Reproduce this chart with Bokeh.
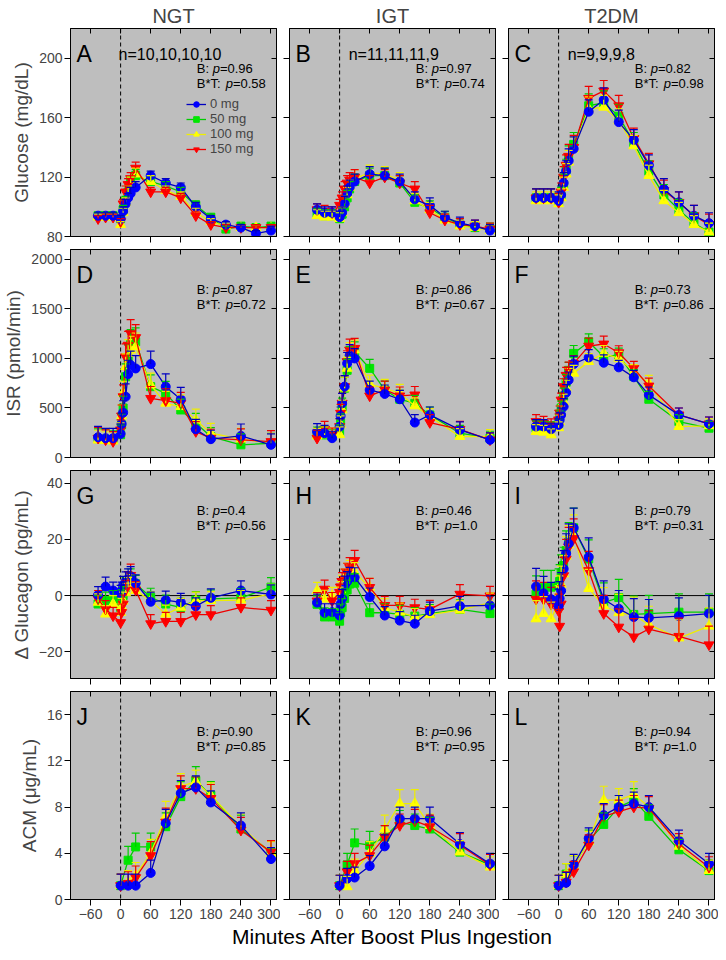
from bokeh.plotting import figure
from bokeh.models import (ColumnDataSource, Range1d, FixedTicker, LinearAxis, Span,
                          Whisker, TeeHead, Legend, LegendItem)
from bokeh.layouts import column, row
from bokeh.embed import file_html
from bokeh.resources import INLINE
from bokeh.core.properties import value, field

FONT = "Liberation Sans"

doses = ["0 mg", "50 mg", "100 mg", "150 mg"]
groups = ["NGT", "IGT", "T2DM"]
x_ticks = [-60, 0, 60, 120, 180, 240, 300]

# ---------------- time points (min) ----------------
t_glu = [-45, -30, -15, 0, 5, 10, 15, 20, 30, 60, 90, 120, 150, 180, 210, 240, 270, 300]
t_isr = [-45, -30, -15, 0, 2, 5, 10, 15, 20, 30, 60, 90, 120, 150, 180, 240, 300]
t_gcg = [-45, -30, -15, 0, 2, 5, 10, 15, 20, 30, 60, 90, 120, 150, 180, 240, 300]
t_acm = [0, 15, 30, 60, 90, 120, 150, 180, 240, 300]

# ---------------- Glucose (mg/dL) ----------------
glu_ngt_0 = [94, 94, 94, 92, 97, 102, 106, 109, 113, 121, 116, 113, 100, 92, 88, 86, 82, 84]
glu_ngt_50 = [94, 94, 94, 92, 98, 104, 110, 116, 121, 117, 114, 110, 101, 93, 85, 87, 86, 87]
glu_ngt_100 = [93, 93, 93, 88, 96, 103, 110, 116, 122, 117, 111, 107, 96, 90, 87, 86, 86, 86]
glu_ngt_150 = [92, 93, 93, 90, 102, 110, 115, 119, 126, 110, 110, 106, 94, 88, 86, 86, 86, 86]
glu_ngt_0_se = [2, 2, 2, 2, 3, 3, 3, 4, 4, 3, 3, 3, 3, 2, 2, 2, 2, 3]
glu_ngt_50_se = [2, 2, 2, 2, 3, 3, 4, 4, 4, 4, 3, 3, 3, 2, 2, 2, 2, 2]
glu_ngt_100_se = [2, 2, 2, 2, 3, 3, 4, 4, 4, 4, 3, 3, 3, 2, 2, 2, 2, 2]
glu_ngt_150_se = [2, 2, 2, 2, 3, 4, 4, 4, 4, 3, 3, 3, 3, 2, 2, 2, 2, 2]

glu_igt_0 = [98, 96, 96, 93, 96, 102, 109, 113, 117, 122, 121, 117, 105, 101, 93, 89, 87, 84]
glu_igt_50 = [95, 94, 94, 92, 95, 100, 106, 112, 117, 121, 121, 116, 103, 99, 93, 88, 86, 85]
glu_igt_100 = [94, 93, 93, 92, 96, 102, 108, 113, 119, 123, 122, 118, 104, 98, 91, 87, 86, 84]
glu_igt_150 = [98, 97, 96, 101, 106, 112, 116, 118, 120, 116, 120, 116, 112, 96, 91, 88, 87, 85]
glu_igt_0_se = [4, 4, 4, 4, 4, 5, 5, 5, 5, 5, 5, 5, 5, 5, 4, 4, 4, 4]
glu_igt_50_se = [4, 4, 4, 4, 4, 5, 5, 5, 5, 5, 5, 5, 5, 5, 4, 4, 4, 4]
glu_igt_100_se = [4, 4, 4, 4, 4, 5, 5, 5, 6, 5, 5, 5, 5, 5, 4, 4, 4, 4]
glu_igt_150_se = [4, 4, 4, 4, 4, 5, 5, 5, 5, 5, 5, 5, 5, 5, 4, 4, 4, 4]

glu_t2d_0 = [106, 106, 106, 104, 108, 116, 124, 131, 139, 164, 172, 157, 145, 128, 112, 103, 94, 89]
glu_t2d_50 = [106, 106, 106, 103, 107, 115, 125, 133, 142, 168, 170, 161, 143, 124, 108, 98, 89, 83]
glu_t2d_100 = [104, 104, 104, 102, 106, 113, 122, 130, 139, 166, 167, 158, 141, 121, 104, 96, 88, 83]
glu_t2d_150 = [106, 106, 106, 103, 110, 120, 128, 134, 140, 173, 178, 168, 146, 129, 111, 103, 94, 88]
glu_t2d_0_se = [6, 6, 6, 6, 6, 7, 7, 8, 8, 8, 8, 8, 7, 7, 7, 7, 7, 7]
glu_t2d_50_se = [6, 6, 6, 6, 6, 7, 7, 8, 8, 8, 8, 8, 7, 7, 7, 7, 7, 6]
glu_t2d_100_se = [6, 6, 6, 6, 6, 7, 7, 8, 8, 8, 8, 8, 7, 7, 7, 7, 6, 6]
glu_t2d_150_se = [6, 6, 6, 6, 6, 7, 7, 8, 8, 8, 7, 7, 7, 7, 7, 7, 7, 7]

# ---------------- ISR (pmol/min) ----------------
isr_ngt_0 = [205, 195, 195, 238, 339, 453, 614, 842, 933, 899, 943, 715, 587, 285, 185, 218, 128]
isr_ngt_50 = [190, 185, 180, 230, 330, 500, 815, 1000, 1151, 1168, 715, 648, 480, 346, 211, 128, 144]
isr_ngt_100 = [175, 170, 165, 250, 420, 650, 916, 1050, 1084, 1117, 732, 547, 513, 379, 245, 185, 144]
isr_ngt_150 = [195, 178, 161, 279, 420, 614, 1017, 1134, 1252, 1211, 597, 574, 547, 262, 195, 178, 161]
isr_ngt_0_se = [110, 100, 100, 100, 110, 120, 130, 140, 140, 130, 130, 130, 120, 100, 90, 120, 110]
isr_ngt_50_se = [100, 100, 90, 100, 110, 120, 130, 140, 140, 140, 120, 120, 110, 100, 90, 110, 100]
isr_ngt_100_se = [100, 90, 90, 100, 110, 120, 130, 140, 140, 140, 120, 120, 120, 110, 100, 110, 100]
isr_ngt_150_se = [110, 100, 100, 100, 110, 120, 130, 140, 140, 130, 120, 120, 110, 100, 90, 110, 110]

isr_igt_0 = [262, 245, 195, 312, 420, 548, 716, 950, 1030, 1000, 682, 642, 588, 353, 430, 279, 178]
isr_igt_50 = [228, 228, 215, 250, 350, 500, 700, 880, 1010, 1068, 900, 682, 588, 548, 430, 245, 195]
isr_igt_100 = [215, 228, 228, 230, 330, 480, 700, 900, 1050, 1085, 742, 699, 648, 521, 413, 212, 212]
isr_igt_150 = [195, 285, 228, 312, 447, 548, 716, 968, 1085, 1102, 622, 682, 622, 632, 353, 285, 178]
isr_igt_0_se = [80, 80, 70, 80, 90, 100, 110, 110, 110, 100, 90, 90, 90, 80, 80, 80, 70]
isr_igt_50_se = [80, 80, 70, 80, 90, 100, 110, 110, 110, 100, 90, 90, 90, 80, 80, 80, 70]
isr_igt_100_se = [80, 80, 70, 80, 90, 100, 110, 110, 110, 100, 90, 90, 90, 80, 80, 80, 70]
isr_igt_150_se = [80, 80, 70, 80, 90, 100, 110, 110, 110, 100, 90, 90, 90, 85, 80, 80, 70]

isr_t2d_0 = [313, 313, 286, 329, 380, 430, 514, 655, 783, 944, 1010, 957, 910, 810, 632, 430, 339]
isr_t2d_50 = [300, 296, 300, 330, 400, 500, 620, 760, 880, 1051, 1169, 1018, 1035, 817, 588, 363, 296]
isr_t2d_100 = [262, 255, 228, 300, 360, 450, 560, 700, 820, 850, 968, 1051, 1001, 867, 749, 312, 320]
isr_t2d_150 = [363, 345, 330, 380, 450, 580, 715, 830, 883, 950, 1125, 1146, 1058, 900, 722, 430, 339]
isr_t2d_0_se = [70, 70, 60, 60, 70, 70, 80, 80, 80, 80, 80, 80, 70, 70, 80, 70, 70]
isr_t2d_50_se = [70, 70, 60, 60, 70, 70, 80, 80, 80, 80, 80, 80, 70, 70, 80, 70, 70]
isr_t2d_100_se = [70, 70, 60, 60, 70, 70, 80, 80, 80, 80, 80, 80, 70, 70, 80, 70, 70]
isr_t2d_150_se = [70, 70, 60, 60, 70, 70, 80, 80, 80, 80, 80, 80, 70, 70, 80, 70, 70]

# ---------------- delta Glucagon (pg/mL) ----------------
gcg_ngt_0 = [0.2, 3.2, 1.8, 0.6, 1.8, 3.6, 5.0, 6.0, 6.8, 4.4, -2.2, -1.6, -2.4, -3.8, -0.8, 1.8, 0.4]
gcg_ngt_50 = [-3.0, -1.8, -1.2, -4.2, -1.0, 0.0, 3.0, 5.0, 6.0, 4.2, -0.6, -3.0, -4.2, -1.6, -1.2, -0.8, 3.0]
gcg_ngt_100 = [-2.4, -6.6, -3.0, -6.0, -4.0, -2.0, 1.0, 3.0, 4.0, 1.8, -1.8, -6.6, -4.2, -1.8, -1.8, -1.6, 0.6]
gcg_ngt_150 = [-1.2, -4.8, -7.2, -9.6, -6.0, -3.0, 2.0, 5.0, 7.2, 2.0, -10.0, -9.2, -9.2, -6.8, -6.8, -4.2, -5.2]
gcg_ngt_0_se = [3.0, 3.4, 3.0, 3.0, 3.0, 3.2, 3.4, 3.5, 3.5, 3.0, 3.4, 3.2, 3.2, 3.0, 3.2, 3.4, 3.4]
gcg_ngt_50_se = [3.0, 3.0, 3.0, 3.0, 3.0, 3.2, 3.4, 3.5, 3.5, 3.0, 3.2, 3.2, 3.2, 3.0, 3.2, 3.4, 3.4]
gcg_ngt_100_se = [3.0, 3.0, 3.0, 3.0, 3.0, 3.2, 3.4, 3.5, 3.5, 3.0, 3.2, 3.2, 3.2, 3.0, 3.2, 3.4, 3.4]
gcg_ngt_150_se = [3.0, 3.0, 3.0, 3.0, 3.0, 3.2, 3.4, 3.5, 4.0, 3.0, 3.2, 3.2, 3.2, 3.0, 3.2, 3.4, 3.4]

gcg_igt_0 = [-2.5, -6.1, -5.9, -7.1, -3.0, -1.0, 3.5, 5.0, 6.5, 6.5, -0.5, -7.1, -8.9, -10.0, -5.5, -3.7, -3.5]
gcg_igt_50 = [-3.1, -7.6, -7.6, -9.1, -6.0, -4.3, -1.0, 2.0, 4.1, 4.4, -6.1, -6.1, -6.7, -7.3, -6.4, -4.9, -6.4]
gcg_igt_100 = [1.7, -1.3, -0.1, 0.0, 2.0, 4.0, 6.0, 8.0, 9.0, 8.3, 2.9, -4.3, -5.9, -7.6, -6.8, -5.2, -2.5]
gcg_igt_150 = [-1.9, 2.3, -1.9, 1.1, 3.0, 5.0, 6.0, 8.0, 10.0, 12.5, 2.9, -3.5, -3.5, -4.3, -4.9, 0.5, -0.1]
gcg_igt_0_se = [3.0, 3.2, 3.0, 3.0, 3.0, 3.2, 3.4, 3.5, 3.5, 3.4, 3.2, 3.2, 3.2, 3.0, 3.2, 3.4, 3.4]
gcg_igt_50_se = [3.0, 3.2, 3.0, 3.0, 3.0, 3.2, 3.4, 3.5, 3.5, 3.4, 3.2, 3.2, 3.2, 3.0, 3.2, 3.4, 3.4]
gcg_igt_100_se = [3.0, 3.2, 3.0, 3.0, 3.0, 3.2, 3.4, 3.5, 3.5, 3.4, 3.2, 3.2, 3.2, 3.0, 3.2, 3.4, 3.4]
gcg_igt_150_se = [3.0, 3.2, 3.0, 3.0, 3.0, 3.2, 3.4, 3.5, 3.5, 3.6, 3.2, 3.2, 3.2, 3.0, 3.2, 3.4, 3.4]

gcg_t2d_0 = [3.2, 0.8, -1.3, -3.7, -1.0, 1.7, 9.5, 15.0, 18.5, 24.1, 13.7, -1.3, -4.7, -7.6, -7.9, -7.3, -6.4]
gcg_t2d_50 = [0.5, 3.0, 3.0, 3.5, 5.0, 8.0, 10.7, 16.0, 19.0, 24.1, 13.0, -2.5, -0.7, -6.7, -6.4, -5.9, -5.9]
gcg_t2d_100 = [-8.3, -6.4, -8.3, -2.5, 1.0, 4.0, 7.7, 14.0, 18.0, 21.7, 2.5, -3.7, -6.1, -7.0, -10.3, -15.1, -10.9]
gcg_t2d_150 = [-1.3, -1.3, -3.1, -5.5, -10.9, -3.0, 7.1, 13.0, 17.3, 20.3, 8.9, -6.4, -11.2, -14.7, -11.9, -14.5, -17.5]
gcg_t2d_0_se = [6.5, 6.0, 6.0, 6.0, 6.0, 6.5, 6.5, 7.0, 7.0, 7.0, 6.8, 6.5, 6.5, 6.5, 6.5, 6.5, 6.5]
gcg_t2d_50_se = [6.5, 6.0, 6.0, 6.0, 6.0, 6.5, 6.5, 7.0, 7.0, 7.0, 6.8, 7.0, 6.5, 6.5, 6.5, 6.5, 6.5]
gcg_t2d_100_se = [6.5, 6.0, 6.0, 6.0, 6.0, 6.5, 6.5, 7.0, 7.0, 7.0, 6.8, 6.5, 6.5, 6.5, 6.5, 6.5, 6.5]
gcg_t2d_150_se = [6.5, 6.0, 6.0, 6.0, 6.0, 6.5, 6.5, 7.0, 7.0, 7.0, 6.8, 6.5, 6.5, 6.5, 6.5, 6.5, 6.6]

# ---------------- ACM (ug/mL) ----------------
acm_ngt_0 = [1.2, 1.2, 1.2, 2.3, 6.6, 9.2, 9.7, 8.4, 6.4, 3.5]
acm_ngt_50 = [1.2, 3.4, 4.55, 4.55, 6.3, 8.9, 10.3, 9.0, 6.1, 4.1]
acm_ngt_100 = [1.2, 1.5, 2.1, 4.0, 7.2, 9.8, 10.2, 9.0, 6.3, 4.0]
acm_ngt_150 = [1.2, 1.4, 1.9, 3.8, 6.7, 9.6, 9.6, 8.75, 6.0, 4.1]
acm_ngt_0_se = [1.0, 1.0, 1.0, 1.1, 1.2, 1.1, 1.0, 1.0, 1.1, 1.0]
acm_ngt_50_se = [1.0, 1.2, 1.2, 1.2, 1.2, 1.3, 1.2, 1.2, 1.2, 1.0]
acm_ngt_100_se = [1.0, 1.0, 1.1, 1.2, 1.3, 1.1, 1.0, 1.1, 1.1, 1.0]
acm_ngt_150_se = [1.0, 1.0, 1.0, 1.2, 1.2, 1.1, 1.0, 1.2, 1.1, 1.0]

acm_igt_0 = [1.2, 1.8, 1.9, 2.9, 4.6, 7.0, 7.0, 7.0, 4.8, 3.1]
acm_igt_50 = [1.2, 3.0, 4.9, 4.7, 5.4, 6.7, 6.4, 6.1, 4.1, 3.0]
acm_igt_100 = [1.2, 1.1, 2.5, 4.0, 6.1, 8.3, 8.3, 6.4, 4.1, 2.8]
acm_igt_150 = [1.2, 2.4, 3.1, 3.8, 5.4, 6.4, 6.8, 6.3, 4.7, 3.0]
acm_igt_0_se = [0.9, 0.9, 0.9, 0.9, 1.0, 1.0, 1.0, 1.0, 1.0, 0.9]
acm_igt_50_se = [0.9, 1.0, 1.2, 1.2, 1.0, 1.0, 1.0, 1.0, 1.0, 0.9]
acm_igt_100_se = [0.9, 0.9, 1.0, 1.0, 1.2, 1.2, 1.2, 1.0, 1.0, 0.9]
acm_igt_150_se = [0.9, 0.9, 0.9, 0.9, 1.0, 1.0, 1.0, 1.0, 1.0, 0.9]

acm_t2d_0 = [1.2, 1.45, 3.0, 5.3, 7.3, 8.0, 8.3, 8.0, 5.1, 3.1]
acm_t2d_50 = [1.2, 2.2, 2.9, 5.1, 6.5, 8.0, 8.6, 7.2, 4.3, 2.5]
acm_t2d_100 = [1.2, 2.2, 2.9, 5.0, 8.6, 8.6, 9.1, 8.0, 4.6, 2.5]
acm_t2d_150 = [1.2, 1.5, 2.4, 4.7, 7.2, 7.6, 8.0, 7.9, 4.8, 2.8]
acm_t2d_0_se = [0.9, 0.9, 0.9, 0.9, 1.0, 1.0, 1.0, 1.0, 0.9, 0.9]
acm_t2d_50_se = [0.9, 0.9, 0.9, 0.9, 1.0, 1.0, 1.0, 1.0, 0.9, 0.9]
acm_t2d_100_se = [0.9, 0.9, 0.9, 0.9, 1.2, 1.0, 1.1, 1.0, 0.9, 0.9]
acm_t2d_150_se = [0.9, 0.9, 0.9, 0.9, 1.0, 1.0, 1.0, 1.0, 0.9, 0.9]

# ---------------- annotations ----------------
panel_letters = ["A", "B", "C", "D", "E", "F", "G", "H", "I", "J", "K", "L"]
n_labels = ["n=10,10,10,10", "n=11,11,11,9", "n=9,9,9,8"]
p_B = ["0.96", "0.97", "0.82", "0.87", "0.86", "0.73", "0.4", "0.46", "0.79", "0.90", "0.96", "0.94"]
p_BT = ["0.58", "0.74", "0.98", "0.72", "0.67", "0.86", "0.56", "1.0", "0.31", "0.85", "0.95", "1.0"]
y_labels = ["Glucose (mg/dL)", "ISR (pmol/min)", "\u0394 Glucagon (pg/mL)", "ACM (\u03bcg/mL)"]
x_label = "Minutes After Boost Plus Ingestion"

y_ranges = [(80, 220), (0, 2100), (-29.5, 44.5), (0, 18)]
y_ticks = [[80, 120, 160, 200], [0, 500, 1000, 1500, 2000], [-20, 0, 20, 40], [0, 4, 8, 12, 16]]

# ---------------- styling ----------------
MARKERS = ["circle", "square", "triangle", "inverted_triangle"]
FILL = ["#0000ff", "#00e600", "#ffff00", "#ff0000"]
LINEC = ["#0000c0", "#00cc00", "#eeee00", "#ee0000"]
SIZES = [9, 8, 10, 10]
DRAW_ORDER = [1, 2, 3, 0]
FW, FH = 206, 208
XR = (-100, 311)
LB0, LB, RB = 70, 9, 4

CW = {'B': .667, ':': .278, ' ': .278, '*': .389, 'T': .611, 'p': .556, '=': .584, '.': .278}


def tw(s, size):
    return sum(CW.get(c, .556) for c in s) * size


def ypos(yr, px_from_top):
    lo, hi = yr
    return hi - px_from_top / FH * (hi - lo)


def tick_only_axis(ticks):
    return LinearAxis(ticker=FixedTicker(ticks=ticks), major_tick_in=5, major_tick_out=0,
                      minor_tick_line_color=None, major_label_text_font_size="0px",
                      major_label_text_color=None, major_label_standoff=0,
                      axis_line_color="black")


def make_panel(col, rowi, t, means, ses):
    idx = rowi * 3 + col
    yr = y_ranges[rowi]
    bottom_row = rowi == 3
    kw = dict(frame_width=FW, frame_height=FH, x_range=Range1d(*XR), y_range=Range1d(*yr),
              output_backend="svg", toolbar_location=None,
              min_border_left=LB0 if col == 0 else LB, min_border_right=RB,
              min_border_top=5, min_border_bottom=8,
              background_fill_color="#bebebe", outline_line_color="black")
    kw["title"] = groups[col] if rowi == 0 else None
    p = figure(**kw)
    if rowi == 0:
        p.title.align = "center"
        p.title.text_font = FONT
        p.title.text_font_size = "20px"
        p.title.text_font_style = "normal"
        p.title.standoff = 4
    p.xgrid.visible = False
    p.ygrid.visible = False

    xa = p.xaxis[0]
    xa.ticker = FixedTicker(ticks=x_ticks)
    xa.major_tick_out = 6
    xa.major_tick_in = 0
    xa.minor_tick_line_color = None
    xa.axis_line_color = "black"
    xa.major_tick_line_color = "black"
    if bottom_row:
        xa.major_label_text_font = FONT
        xa.major_label_text_font_size = "14px"
        xa.major_label_standoff = 3
    else:
        xa.major_label_text_font_size = "0px"
        xa.major_label_text_color = None
        xa.major_label_standoff = 0

    ya = p.yaxis[0]
    ya.ticker = FixedTicker(ticks=y_ticks[rowi])
    ya.major_tick_out = 6
    ya.major_tick_in = 0
    ya.minor_tick_line_color = None
    ya.axis_line_color = "black"
    ya.major_tick_line_color = "black"
    if col == 0:
        ya.major_label_text_font = FONT
        ya.major_label_text_font_size = "14px"
        ya.major_label_standoff = 2
        ya.axis_label = y_labels[rowi]
        ya.axis_label_text_font = FONT
        ya.axis_label_text_font_size = "19px"
        ya.axis_label_text_font_style = "normal"
        ya.axis_label_standoff = 4
    else:
        ya.major_label_text_font_size = "0px"
        ya.major_label_text_color = None
        ya.major_label_standoff = 0

    p.add_layout(tick_only_axis(y_ticks[rowi]), "right")
    p.add_layout(tick_only_axis(x_ticks), "above")

    p.add_layout(Span(location=0, dimension="height", line_color="black", line_width=1,
                      line_dash="4 3", level="underlay"))
    if rowi == 2:
        p.add_layout(Span(location=0, dimension="width", line_color="black", line_width=1,
                          level="underlay"))

    lines, scats = {}, {}
    for i in DRAW_ORDER:
        up = [m + s for m, s in zip(means[i], ses[i])]
        src = ColumnDataSource(dict(t=t, m=means[i], up=up))
        w = Whisker(source=src, base="t", lower="m", upper="up", dimension="height",
                    line_color=LINEC[i], line_width=1.2,
                    upper_head=TeeHead(size=8, line_color=LINEC[i], line_width=1.2),
                    lower_head=None, level="glyph")
        p.add_layout(w)
        lines[i] = p.line("t", "m", source=src, line_color=LINEC[i], line_width=1.3)
        scats[i] = p.scatter("t", "m", source=src, marker=MARKERS[i], size=SIZES[i],
                             fill_color=FILL[i], line_color=FILL[i])

    # panel letter
    p.text(x=[-88], y=[ypos(yr, 25)], text=[panel_letters[idx]], text_font=value(FONT),
           text_font_size="23px", text_baseline="alphabetic", text_align="left",
           text_color="black")
    # n labels
    if rowi == 0:
        p.text(x=[-4 if col == 0 else 18], y=[ypos(yr, 26)], text=[n_labels[col]],
               text_font=value(FONT), text_font_size="16px", text_baseline="alphabetic",
               text_align="left", text_color="black")
    # p values with italic p
    fs = 13
    xs, ys, txt, sty, offs = [], [], [], [], []
    for pre, val, base in (("B: ", p_B[idx], 40), ("B*T: ", p_BT[idx], 55)):
        parts = [(pre, "normal"), ("p", "italic"), ("=" + val, "normal")]
        off = 0.0
        for s, st in parts:
            xs.append(152)
            ys.append(ypos(yr, base))
            txt.append(s)
            sty.append(st)
            offs.append(off)
            off += tw(s, fs)
    tsrc = ColumnDataSource(dict(x=xs, y=ys, text=txt, fs=sty, xo=offs))
    p.text(x="x", y="y", text="text", source=tsrc, x_offset="xo", text_font_style=field("fs"),
           text_font=value(FONT), text_font_size=f"{fs}px", text_baseline="alphabetic",
           text_align="left", text_color="black")

    if idx == 0:
        items = [LegendItem(label=doses[i], renderers=[lines[i], scats[i]]) for i in range(4)]
        leg = Legend(items=items, location=(116, 80), background_fill_alpha=0,
                     border_line_alpha=0, label_text_font=FONT, label_text_font_size="13px",
                     glyph_width=20, glyph_height=14, label_height=14, spacing=0,
                     padding=0, margin=0, label_standoff=4)
        p.add_layout(leg)
    return p


panels_data = [
    (t_glu, [[glu_ngt_0, glu_ngt_50, glu_ngt_100, glu_ngt_150],
             [glu_igt_0, glu_igt_50, glu_igt_100, glu_igt_150],
             [glu_t2d_0, glu_t2d_50, glu_t2d_100, glu_t2d_150]],
     [[glu_ngt_0_se, glu_ngt_50_se, glu_ngt_100_se, glu_ngt_150_se],
      [glu_igt_0_se, glu_igt_50_se, glu_igt_100_se, glu_igt_150_se],
      [glu_t2d_0_se, glu_t2d_50_se, glu_t2d_100_se, glu_t2d_150_se]]),
    (t_isr, [[isr_ngt_0, isr_ngt_50, isr_ngt_100, isr_ngt_150],
             [isr_igt_0, isr_igt_50, isr_igt_100, isr_igt_150],
             [isr_t2d_0, isr_t2d_50, isr_t2d_100, isr_t2d_150]],
     [[isr_ngt_0_se, isr_ngt_50_se, isr_ngt_100_se, isr_ngt_150_se],
      [isr_igt_0_se, isr_igt_50_se, isr_igt_100_se, isr_igt_150_se],
      [isr_t2d_0_se, isr_t2d_50_se, isr_t2d_100_se, isr_t2d_150_se]]),
    (t_gcg, [[gcg_ngt_0, gcg_ngt_50, gcg_ngt_100, gcg_ngt_150],
             [gcg_igt_0, gcg_igt_50, gcg_igt_100, gcg_igt_150],
             [gcg_t2d_0, gcg_t2d_50, gcg_t2d_100, gcg_t2d_150]],
     [[gcg_ngt_0_se, gcg_ngt_50_se, gcg_ngt_100_se, gcg_ngt_150_se],
      [gcg_igt_0_se, gcg_igt_50_se, gcg_igt_100_se, gcg_igt_150_se],
      [gcg_t2d_0_se, gcg_t2d_50_se, gcg_t2d_100_se, gcg_t2d_150_se]]),
    (t_acm, [[acm_ngt_0, acm_ngt_50, acm_ngt_100, acm_ngt_150],
             [acm_igt_0, acm_igt_50, acm_igt_100, acm_igt_150],
             [acm_t2d_0, acm_t2d_50, acm_t2d_100, acm_t2d_150]],
     [[acm_ngt_0_se, acm_ngt_50_se, acm_ngt_100_se, acm_ngt_150_se],
      [acm_igt_0_se, acm_igt_50_se, acm_igt_100_se, acm_igt_150_se],
      [acm_t2d_0_se, acm_t2d_50_se, acm_t2d_100_se, acm_t2d_150_se]]),
]

rows = []
for r, (t, means_all, ses_all) in enumerate(panels_data):
    rows.append(row(*[make_panel(c, r, t, means_all[c], ses_all[c]) for c in range(3)]))

# shared x-axis title, in its own strip below the grid
total_w = (LB0 + FW + RB) + 2 * (LB + FW + RB)
lab = figure(width=total_w, height=32, x_range=Range1d(0, total_w), y_range=Range1d(0, 32),
             output_backend="svg", toolbar_location=None, x_axis_type=None, y_axis_type=None,
             min_border=0, outline_line_color=None)
lab.grid.visible = False
xc = LB0 + FW + RB + LB + FW / 2
lab.text(x=[xc], y=[29], text=[x_label], text_font=value(FONT), text_font_size="21px",
         text_align="center", text_baseline="top", text_color="black")

layout = column(*rows, lab)
open("out.html", "w").write(file_html(layout, INLINE))
